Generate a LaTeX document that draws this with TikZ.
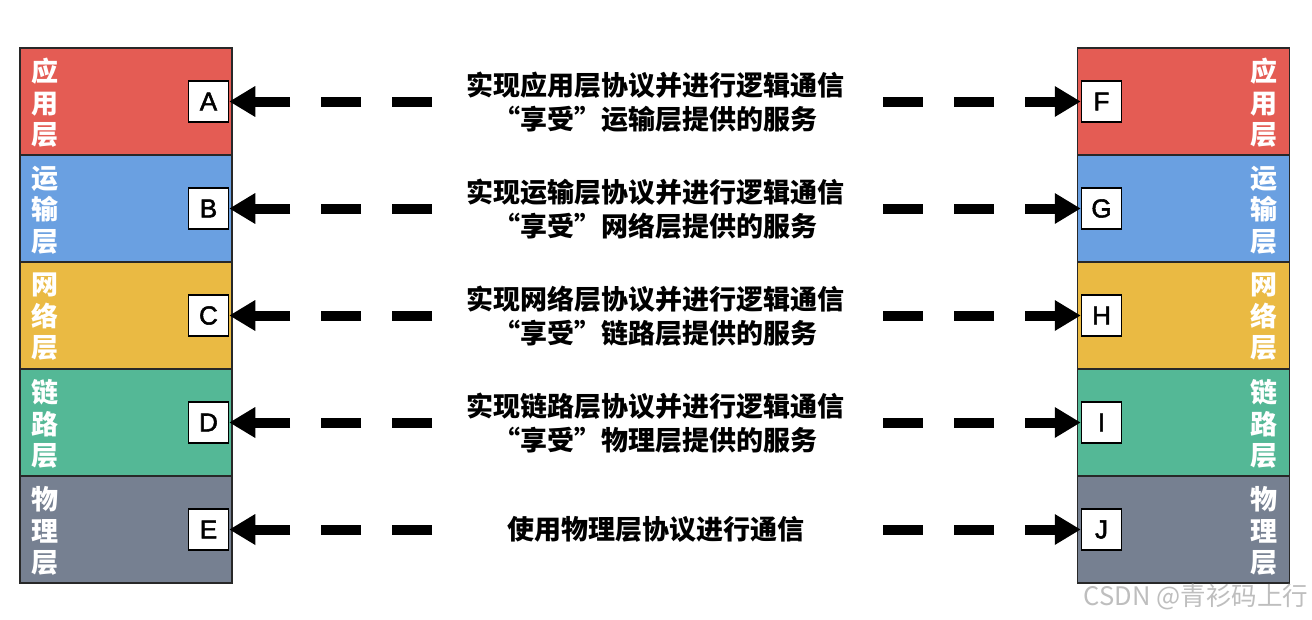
\documentclass[tikz,border=0pt]{standalone}
\usepackage{fontspec}
\setmainfont{Liberation Sans}
\newfontfamily\letterfont[FakeBold=2]{Liberation Sans}
\newfontfamily\cjk{Noto Sans CJK SC}
\usetikzlibrary{arrows.meta}
\definecolor{cApp}{RGB}{228,92,84}
\definecolor{cTra}{RGB}{106,160,225}
\definecolor{cNet}{RGB}{234,186,67}
\definecolor{cLnk}{RGB}{84,184,150}
\definecolor{cPhy}{RGB}{118,128,145}
\definecolor{cBorder}{RGB}{40,40,40}
\definecolor{cMark}{RGB}{190,190,190}
\begin{document}
\begin{tikzpicture}[x=1pt,y=-1pt,
  layer/.style={draw=cBorder, line width=1.5pt, minimum width=212pt, minimum height=107pt, inner sep=0pt},
  letterbox/.style={draw=black, line width=1.5pt, fill=white, minimum width=40pt, minimum height=41pt, inner sep=0pt, font=\letterfont\fontsize{26}{26}\selectfont},
  vlabel/.style={text=white, align=center, inner sep=0pt, font=\cjk\bfseries\fontsize{27}{31.5}\selectfont},
  desc/.style={align=center, inner sep=0pt, font=\cjk\bfseries\fontsize{27}{34}\selectfont},
  arr/.style={line width=10pt, dash pattern=on 40pt off 31pt, -{Triangle[length=26pt,width=29pt]}}
]
\useasboundingbox (0,0) rectangle (1312,619);
\fill[white] (0,0) rectangle (1312,619);

\foreach \i/\y/\col/\a/\b/\c/\L/\R in {1/101.5/cApp/应/用/层/A/F, 2/208.5/cTra/运/输/层/B/G, 3/315.5/cNet/网/络/层/C/H, 4/422.5/cLnk/链/路/层/D/I, 5/529.5/cPhy/物/理/层/E/J}{
  \node[layer, fill=\col] (L\i) at (126,\y) {};
  \node[layer, fill=\col] (R\i) at (1183.5,\y) {};
  \node[vlabel] (LL\i) at (44.5,\y+1.5) {\a\\\b\\\c};
  \node[vlabel] (RL\i) at (1264,\y+1.5) {\a\\\b\\\c};
  \node[letterbox] (\L) at (208.5,\y) {\L};
  \node[letterbox] (\R) at (1101.5,\y) {\R};
  \coordinate (la\i) at (432,\y);
  \coordinate (ra\i) at (883,\y);
  \draw[arr] (la\i) -- (\L.east);
  \draw[arr] (ra\i) -- (\R.west);
}

\node[desc] (T1) at (655,102) {实现应用层协议并进行逻辑通信\\“享受”运输层提供的服务};
\node[desc] (T2) at (655,209) {实现运输层协议并进行逻辑通信\\“享受”网络层提供的服务};
\node[desc] (T3) at (655,316) {实现网络层协议并进行逻辑通信\\“享受”链路层提供的服务};
\node[desc] (T4) at (655,423) {实现链路层协议并进行逻辑通信\\“享受”物理层提供的服务};
\node[desc] (T5) at (656,529.5) {使用物理层协议进行通信};

\node[text=cMark, inner sep=0pt, font=\cjk\fontsize{25.5}{25.5}\selectfont] (WM) at (1196,597) {CSDN @青衫码上行};
\end{tikzpicture}
\end{document}
